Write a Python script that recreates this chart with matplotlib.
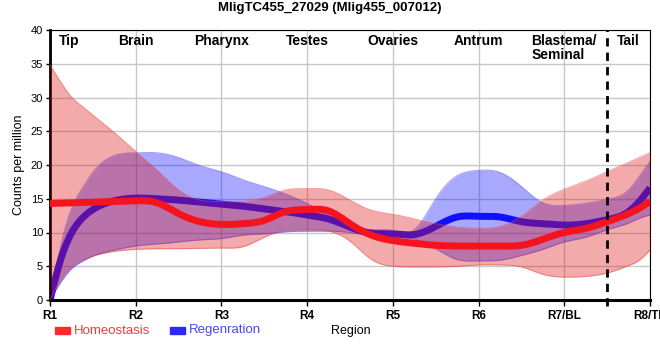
import numpy as np
import matplotlib
matplotlib.use("Agg")
import matplotlib.pyplot as plt
from matplotlib.patches import Rectangle

plt.rcParams['font.family'] = ['Liberation Sans', 'DejaVu Sans']

# ---------------- data ----------------
title = "MligTC455_27029 (Mlig455_007012)"
region_ticks = ["R1", "R2", "R3", "R4", "R5", "R6", "R7/BL", "R8/TL"]
region_names = ["Tip", "Brain", "Pharynx", "Testes", "Ovaries", "Antrum", "Blastema/\nSeminal", "Tail"]
name_pos = [0.22, 1.0, 2.0, 3.0, 4.0, 5.0, 6.0, 6.75]
boundary = 6.5

pos = [0, 0.125, 0.25, 0.375, 0.5, 0.75, 1, 1.25, 1.5, 1.75, 2, 2.25, 2.5, 2.75, 3,
       3.25, 3.5, 3.75, 4, 4.25, 4.5, 4.75, 5, 5.25, 5.5, 5.75, 6, 6.25, 6.5, 6.75, 6.875, 7]

homeo_mean = [14.3, 14.35, 14.4, 14.45, 14.5, 14.6, 14.7, 14.4, 12.8, 11.6, 11.2, 11.3, 11.8, 13.1, 13.4,
              13.2, 11.3, 9.6, 8.8, 8.4, 8.1, 8.0, 8.0, 8.0, 8.1, 9.0, 10.0, 10.6, 11.6, 12.8, 13.6, 14.6]
homeo_hi = [34.8, 32.3, 30.1, 28.7, 27.4, 24.8, 22.0, 19.2, 16.3, 14.8, 14.6, 14.6, 15.2, 16.3, 16.5,
            16.3, 14.8, 13.3, 12.7, 12.0, 11.3, 10.8, 10.6, 10.9, 12.4, 14.8, 16.4, 17.6, 19.0, 20.4, 21.1, 21.8]
homeo_lo = [0.0, 3.0, 4.9, 5.9, 6.5, 7.2, 7.5, 7.6, 7.6, 7.65, 7.7, 7.9, 9.3, 10.3, 10.4,
            10.2, 8.7, 6.0, 5.0, 4.9, 4.9, 5.0, 5.2, 5.2, 4.9, 3.8, 3.4, 3.5, 4.0, 5.1, 5.9, 7.4]

regen_mean = [0.0, 6.0, 9.9, 12.1, 13.4, 14.7, 15.1, 15.0, 14.8, 14.5, 14.2, 13.9, 13.5, 13.1, 12.6,
              12.0, 10.8, 9.9, 9.8, 9.7, 10.9, 12.3, 12.4, 12.3, 11.6, 11.3, 11.1, 11.3, 11.9, 13.1, 14.6, 16.6]
regen_hi = [0.0, 8.0, 13.5, 16.5, 18.9, 21.4, 21.8, 21.8, 21.1, 19.9, 19.0, 17.8, 16.8, 15.7, 14.3,
            12.6, 11.0, 10.4, 10.3, 10.4, 15.0, 18.4, 19.2, 18.9, 16.8, 14.4, 14.0, 14.3, 14.9, 16.3, 18.3, 20.5]
regen_lo = [0.0, 2.6, 4.6, 5.7, 6.5, 7.4, 8.0, 8.3, 8.6, 8.9, 9.1, 9.6, 9.8, 10.1, 10.2,
            10.2, 10.0, 9.5, 9.3, 9.0, 7.6, 6.0, 5.8, 5.9, 6.6, 7.5, 8.6, 9.3, 10.4, 11.4, 12.1, 12.6]


def spline(x, y, xn):
    """Natural cubic spline through the read points (for a smooth drawing)."""
    x = np.asarray(x, float); y = np.asarray(y, float)
    n = len(x); h = np.diff(x)
    A = np.zeros((n, n)); b = np.zeros(n)
    A[0, 0] = 1; A[-1, -1] = 1
    for i in range(1, n - 1):
        A[i, i - 1] = h[i - 1]; A[i, i] = 2 * (h[i - 1] + h[i]); A[i, i + 1] = h[i]
        b[i] = 6 * ((y[i + 1] - y[i]) / h[i] - (y[i] - y[i - 1]) / h[i - 1])
    M = np.linalg.solve(A, b)
    i = np.clip(np.searchsorted(x, xn) - 1, 0, n - 2)
    t0 = x[i + 1] - xn; t1 = xn - x[i]; hi = h[i]
    return (M[i] * t0**3 / (6 * hi) + M[i + 1] * t1**3 / (6 * hi)
            + (y[i] / hi - M[i] * hi / 6) * t0 + (y[i + 1] / hi - M[i + 1] * hi / 6) * t1)


xs = np.linspace(0, 7, 800)

fig = plt.figure(figsize=(6.6, 3.6), dpi=100)
ax = fig.add_axes([50 / 660, 60 / 360, 600 / 660, 270 / 360])

ax.set_xlim(0, 7)
ax.set_ylim(0, 40)
ax.set_xticks(range(8))
ax.set_xticklabels(region_ticks, fontweight='bold', fontsize=8.5)
ax.set_yticks(range(0, 41, 5))
ax.tick_params(axis='y', labelsize=8, length=3, width=1, pad=2)
ax.tick_params(axis='x', length=4, width=1, pad=3)
ax.grid(True, color='#c8c8c8', lw=1)
ax.set_axisbelow(True)
for s in ['top', 'right']:
    ax.spines[s].set_linewidth(0.8)
ax.spines['left'].set_linewidth(2)
ax.spines['bottom'].set_linewidth(2.2)

blue_fill = (0.0, 0.0, 1.0, 0.34)
red_fill = (0.86, 0.08, 0.08, 0.36)

# regeneration (drawn first, below homeostasis band)
rh = spline(pos, regen_hi, xs); rl = spline(pos, regen_lo, xs); rm = spline(pos, regen_mean, xs)
ax.fill_between(xs, rl, rh, color=blue_fill, lw=0, zorder=1)
ax.plot(xs, rh, color=(0.3, 0.3, 1.0, 0.5), lw=0.8, zorder=1.1)
ax.plot(xs, rl, color=(0.3, 0.3, 1.0, 0.5), lw=0.8, zorder=1.1)
ax.plot(xs, rm, color='#1010ff', lw=5, solid_capstyle='butt', zorder=2)

hh = spline(pos, homeo_hi, xs); hl = spline(pos, homeo_lo, xs); hm = spline(pos, homeo_mean, xs)
ax.fill_between(xs, hl, hh, color=red_fill, lw=0, zorder=3)
ax.plot(xs, hh, color=(0.9, 0.3, 0.3, 0.5), lw=0.8, zorder=3.1)
ax.plot(xs, hl, color=(0.9, 0.3, 0.3, 0.5), lw=0.8, zorder=3.1)
ax.plot(xs, hm, color='#f5141e', lw=5, solid_capstyle='butt', zorder=4)

ax.plot([boundary, boundary], [-0.9, 40], color='black', lw=2,
        ls=(0, (3, 2.2)), clip_on=False, zorder=5)

for nm, p in zip(region_names, name_pos):
    ax.text(p, 39.4, nm, ha='center', va='top', fontsize=10, fontweight='bold',
            multialignment='left', linespacing=1.0, zorder=6)

fig.text(0.5, 1 - 8 / 360, title, ha='center', va='center', fontsize=9.5, fontweight='bold')
ax.set_ylabel("Counts per million", fontsize=9, labelpad=4)
fig.text(351 / 660, 1 - 331 / 360, "Region", ha='center', va='center', fontsize=9)

# legend
fig.patches.append(Rectangle((55 / 660, 1 - 334 / 360), 15 / 660, 7 / 360,
                             transform=fig.transFigure, color='#ff2a2a', figure=fig))
fig.text(74 / 660, 1 - 330.5 / 360, "Homeostasis", color='#f03c3c', fontsize=9.5, va='center')
fig.patches.append(Rectangle((170 / 660, 1 - 334 / 360), 15 / 660, 7 / 360,
                             transform=fig.transFigure, color='#2a2aff', figure=fig))
fig.text(189 / 660, 1 - 330.5 / 360, "Regenration", color='#4848f0', fontsize=9.5, va='center')

fig.savefig("out.png", dpi=100)
